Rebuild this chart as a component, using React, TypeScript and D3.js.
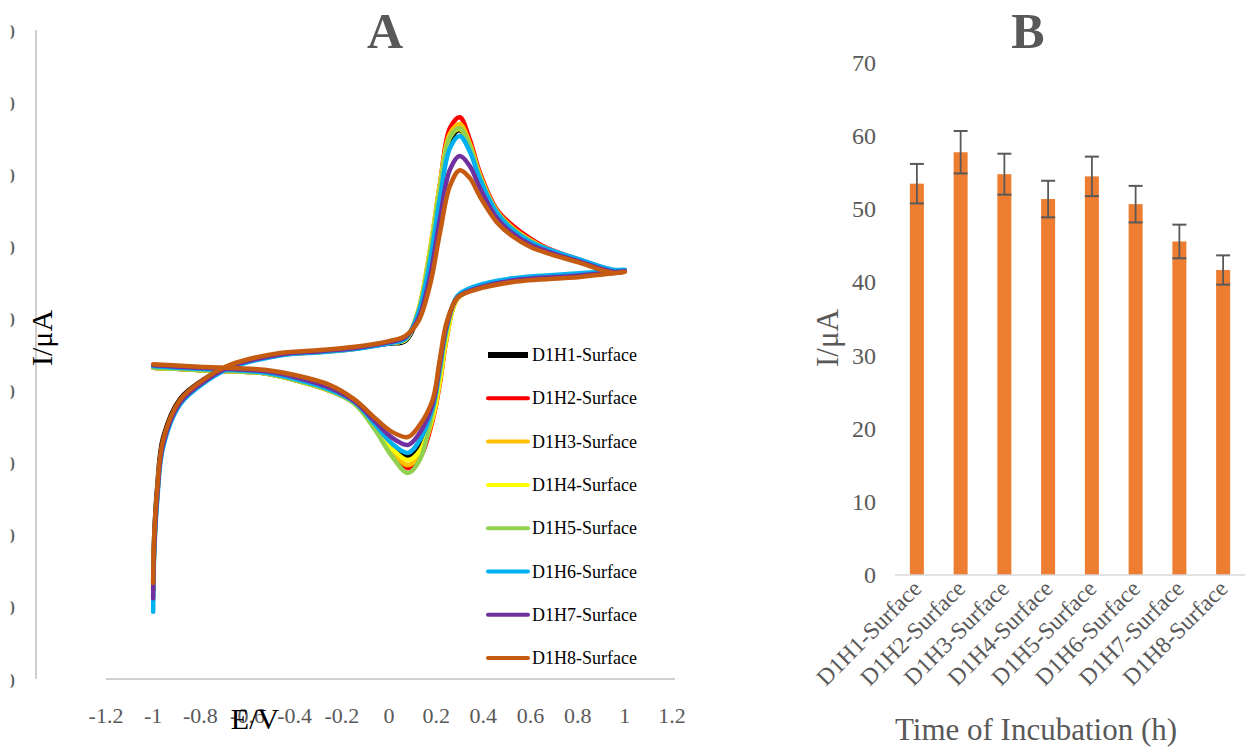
import React from "react";
import * as d3 from "d3";

// ---------- Panel A data (cyclic voltammograms) ----------
const potentials = [
  -1, -0.9, -0.78, -0.65, -0.52, -0.4, -0.25, -0.144, -0.06, 0.013, 0.08, 0.13, 0.185, 0.215, 0.245, 0.29,
  0.365, 0.525, 0.81, 1.0, 0.95, 0.81, 0.67, 0.6, 0.525, 0.458, 0.386, 0.343, 0.3, 0.258, 0.216, 0.174, 0.123,
  0.068, 0.0, -0.144, -0.292, -0.462, -0.674, -0.771, -0.886, -0.958, -0.983, -0.996, -1.0,
];

const currentD1H1 = [6.6, 6.3, 5.9, 5.6, 5.0, 3.2, 0.2, -3.2, -9.3, -15.0, -18.2, -15.5, -6.5, 3.5, 16.0, 25.8, 28.6, 30.8, 32.2, 33.3, 33.4, 36.3, 39.2, 41.3, 44.6, 49.3, 59.0, 67.5, 72.5, 69.5, 55.0, 37.0, 21.0, 14.0, 13.3, 12.0, 11.2, 10.4, 7.2, 4.0, -2.0, -12.8, -26.5, -40.5, -53.1];
const currentD1H2 = [6.6, 6.3, 5.9, 5.6, 5.0, 3.2, 0.2, -3.3, -10.0, -17.0, -21.2, -18.5, -8.0, 2.0, 15.0, 26.0, 28.8, 31.0, 32.4, 33.4, 33.6, 36.5, 39.8, 42.4, 46.0, 50.4, 60.6, 69.8, 76.1, 73.0, 57.5, 39.0, 22.0, 14.3, 13.5, 11.9, 11.0, 10.2, 6.8, 3.3, -3.2, -14.5, -29.0, -44.0, -55.0];
const currentD1H3 = [6.6, 6.3, 5.9, 5.6, 5.0, 3.2, 0.2, -3.3, -9.8, -16.5, -20.4, -17.5, -7.5, 2.5, 15.0, 25.8, 28.7, 30.9, 32.3, 33.4, 33.5, 36.4, 39.6, 42.0, 45.4, 50.0, 60.0, 68.8, 74.2, 71.5, 57.5, 39.5, 22.3, 14.3, 13.5, 11.9, 11.0, 10.2, 6.8, 3.3, -3.2, -14.5, -29.0, -44.0, -55.0];
const currentD1H4 = [6.6, 6.3, 5.9, 5.6, 5.0, 3.2, 0.2, -3.2, -9.5, -15.8, -19.0, -16.5, -7.0, 3.0, 15.5, 25.8, 28.7, 30.9, 32.3, 33.4, 33.4, 36.3, 39.3, 41.5, 44.7, 49.3, 59.2, 67.8, 72.8, 70.5, 57.0, 39.0, 22.0, 14.3, 13.5, 11.9, 11.0, 10.2, 6.8, 3.3, -3.2, -14.5, -29.0, -44.0, -55.0];
const currentD1H5 = [6.6, 6.3, 5.9, 5.6, 5.0, 3.2, 0.2, -3.5, -10.5, -18.0, -22.6, -19.0, -5.5, 5.0, 17.0, 26.2, 28.8, 31.0, 32.4, 33.4, 33.5, 36.4, 39.5, 41.8, 45.1, 49.8, 59.5, 68.0, 73.1, 70.5, 56.5, 38.5, 22.0, 14.3, 13.5, 11.9, 11.0, 10.2, 6.8, 3.3, -3.2, -14.5, -29.0, -44.0, -55.0];
const currentD1H6 = [7.0, 6.6, 6.2, 5.9, 5.2, 3.5, 0.5, -3.0, -9.0, -14.5, -17.0, -13.5, -4.5, 6.5, 18.0, 26.5, 29.2, 31.4, 32.8, 33.8, 33.8, 36.6, 39.6, 41.5, 44.8, 49.5, 58.8, 66.5, 70.9, 67.5, 53.5, 36.0, 21.5, 14.6, 13.4, 11.8, 10.9, 10.0, 6.5, 3.0, -3.6, -15.5, -30.5, -46.0, -61.1];
const currentD1H7 = [7.3, 6.9, 6.5, 6.2, 5.6, 4.0, 1.0, -2.8, -8.2, -12.8, -14.8, -11.5, -3.5, 7.5, 18.5, 26.0, 28.5, 30.8, 32.2, 33.4, 33.2, 36.0, 38.9, 40.7, 43.8, 48.0, 56.4, 62.5, 65.3, 61.5, 48.0, 32.0, 20.0, 15.0, 13.7, 12.1, 11.2, 10.3, 6.9, 3.4, -3.0, -14.5, -29.0, -44.0, -57.3];
const currentD1H8 = [7.6, 7.2, 6.8, 6.5, 6.0, 4.6, 1.8, -2.3, -7.3, -11.2, -12.6, -9.3, -2.3, 8.7, 19.3, 26.0, 28.2, 30.4, 31.8, 33.2, 32.9, 35.7, 38.4, 40.1, 43.0, 46.9, 54.0, 59.2, 61.4, 57.0, 44.0, 29.6, 19.3, 15.4, 14.0, 12.4, 11.5, 10.7, 7.4, 4.0, -2.3, -13.4, -27.3, -41.2, -53.1];

const seriesNames = [
  "D1H1-Surface", "D1H2-Surface", "D1H3-Surface", "D1H4-Surface",
  "D1H5-Surface", "D1H6-Surface", "D1H7-Surface", "D1H8-Surface",
];
const seriesColors = ["#000000", "#FF0000", "#FFC000", "#FFFF00", "#92D050", "#00B0F0", "#7030A0", "#C55A11"];
const seriesCurrents = [currentD1H1, currentD1H2, currentD1H3, currentD1H4, currentD1H5, currentD1H6, currentD1H7, currentD1H8];

const xTicksA = [-1.2, -1, -0.8, -0.6, -0.4, -0.2, 0, 0.2, 0.4, 0.6, 0.8, 1, 1.2];
const yTicksA = [-80, -60, -40, -20, 0, 20, 40, 60, 80, 100];

// ---------- Panel B data (peak currents) ----------
const barCategories = seriesNames;
const barValues = [53.5, 57.8, 54.8, 51.4, 54.5, 50.7, 45.6, 41.7];
const barErrors = [2.7, 2.9, 2.8, 2.5, 2.7, 2.5, 2.3, 2.0];
const yTicksB = [0, 10, 20, 30, 40, 50, 60, 70];

const FONT = "'Liberation Serif', 'Times New Roman', serif";
const GRAY = "#595959";

export default function App() {
  // Panel A scales
  const xA = d3.scaleLinear().domain([-1.2, 1.2]).range([106, 672]);
  const yA = d3.scaleLinear().domain([-80, 100]).range([680, 31]);
  const line = d3
    .line<[number, number]>()
    .x((d) => xA(d[0]))
    .y((d) => yA(d[1]))
    .curve(d3.curveCatmullRom.alpha(0.5));

  // Panel B scales
  const xB = d3.scaleBand<string>().domain(barCategories).range([895, 1245]).paddingInner(0.68).paddingOuter(0.34);
  const yB = d3.scaleLinear().domain([0, 70]).range([575, 63]);

  const legendX = 488;
  const legendY0 = 355;
  const legendStep = 43.3;

  return (
    <svg
      width={1249}
      height={747}
      style={{ position: "absolute", left: 0, top: 0, background: "#fff" }}
      fontFamily={FONT}
    >
      <defs>
        <clipPath id="yClipA">
          <rect x={10.5} y={0} width={30} height={747} />
        </clipPath>
      </defs>
      <rect x={0} y={0} width={1249} height={747} fill="#fff" />

      {/* ---------------- Panel A ---------------- */}
      <text x={385} y={48} textAnchor="middle" fontSize={50} fontWeight="bold" fill={GRAY}>
        A
      </text>

      {/* y axis line */}
      <line x1={36} x2={36} y1={30} y2={679} stroke="#BFBFBF" strokeWidth={1.5} />
      {/* clipped y tick labels */}
      <g clipPath="url(#yClipA)">
        {yTicksA.map((t) => (
          <text key={t} x={15} y={yA(t)} textAnchor="end" dominantBaseline="central" fontSize={22} fill={GRAY}>
            {t}
          </text>
        ))}
      </g>

      {/* x axis line */}
      <line x1={xA(-1.2)} x2={xA(1.2) + 3} y1={679} y2={679} stroke="#BFBFBF" strokeWidth={1.5} />
      {xTicksA.map((t) => (
        <text key={t} x={xA(t)} y={723} textAnchor="middle" fontSize={22} fill={GRAY}>
          {String(Math.round(t * 10) / 10)}
        </text>
      ))}

      {/* curves */}
      {seriesCurrents.map((cur, i) => {
        const pts = potentials.map((e, k) => [e, cur[k]] as [number, number]);
        return (
          <path
            key={seriesNames[i]}
            d={line(pts) || ""}
            fill="none"
            stroke={seriesColors[i]}
            strokeWidth={4.5}
            strokeLinejoin="round"
            strokeLinecap="round"
          />
        );
      })}

      {/* legend */}
      {seriesNames.map((name, i) => {
        const y = legendY0 + i * legendStep;
        return (
          <g key={name}>
            <line
              x1={legendX}
              x2={legendX + 40}
              y1={y}
              y2={y}
              stroke={seriesColors[i]}
              strokeWidth={i === 0 ? 6 : 4}
              strokeLinecap={i === 0 ? "butt" : "round"}
            />
            <text x={legendX + 44} y={y} dominantBaseline="central" fontSize={18} fill="#000">
              {name}
            </text>
          </g>
        );
      })}

      {/* axis titles */}
      <text x={255} y={729} textAnchor="middle" fontSize={30} fill="#000">
        E/V
      </text>
      <text transform={`translate(52, 338) rotate(-90)`} textAnchor="middle" fontSize={30} fill="#000">
        I/μA
      </text>

      {/* ---------------- Panel B ---------------- */}
      <text x={1028} y={48} textAnchor="middle" fontSize={50} fontWeight="bold" fill={GRAY}>
        B
      </text>

      {yTicksB.map((t) => (
        <text key={t} x={876} y={yB(t)} textAnchor="end" dominantBaseline="central" fontSize={24} fill={GRAY}>
          {t}
        </text>
      ))}

      {barCategories.map((c, i) => {
        const x = xB(c) as number;
        const w = xB.bandwidth();
        const cx = x + w / 2;
        const v = barValues[i];
        const e = barErrors[i];
        return (
          <g key={c}>
            <rect x={x} y={yB(v)} width={w} height={yB(0) - yB(v)} fill="#ED7D31" />
            <line x1={cx} x2={cx} y1={yB(v + e)} y2={yB(v - e)} stroke={GRAY} strokeWidth={1.8} />
            <line x1={cx - 7} x2={cx + 7} y1={yB(v + e)} y2={yB(v + e)} stroke={GRAY} strokeWidth={2} />
            <line x1={cx - 7} x2={cx + 7} y1={yB(v - e)} y2={yB(v - e)} stroke={GRAY} strokeWidth={2} />
            <text transform={`translate(${cx + 6}, 590) rotate(-45)`} textAnchor="end" fontSize={23.5} fill={GRAY}>
              {c}
            </text>
          </g>
        );
      })}

      <line x1={895} x2={1245} y1={yB(0)} y2={yB(0)} stroke="#D9D9D9" strokeWidth={1.5} />

      <text x={1036} y={740} textAnchor="middle" fontSize={31} fill={GRAY}>
        Time of Incubation (h)
      </text>
      <text transform={`translate(838, 338) rotate(-90)`} textAnchor="middle" fontSize={31} fill={GRAY}>
        I/μA
      </text>
    </svg>
  );
}
